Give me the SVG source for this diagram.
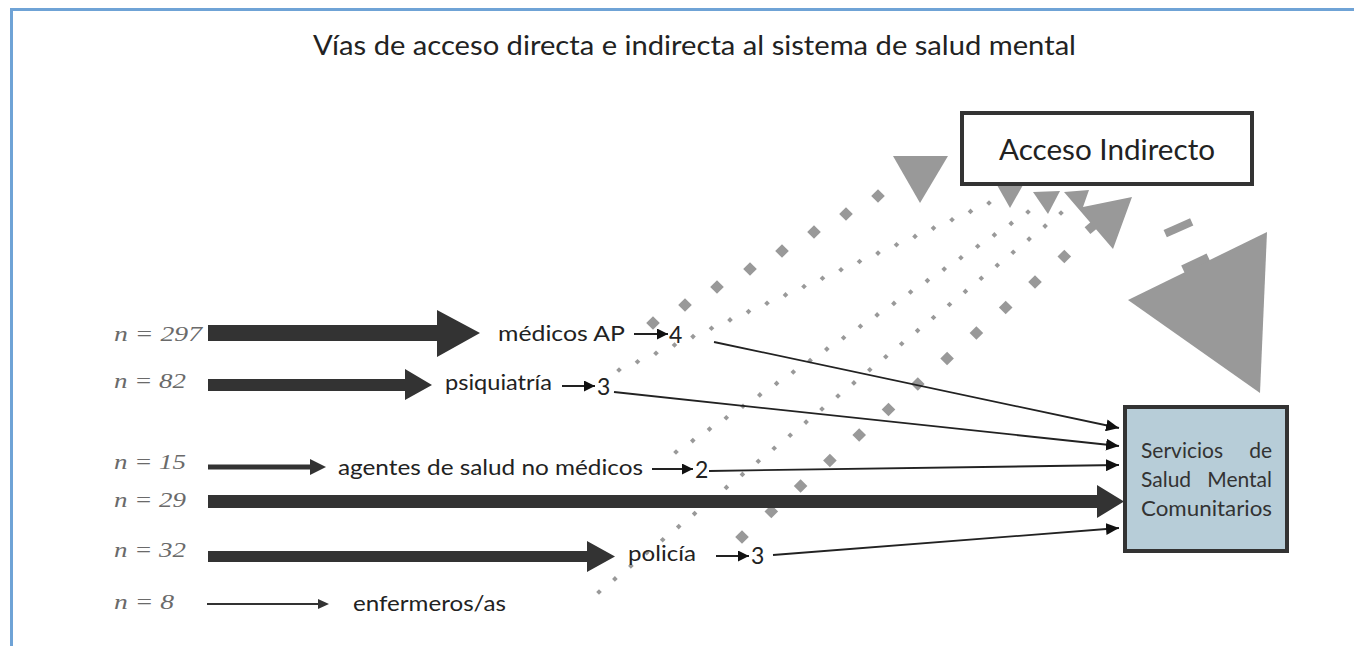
<svg xmlns="http://www.w3.org/2000/svg" width="1354" height="646" viewBox="0 0 1354 646">
<style>
.t{font-family:Lato,"Open Sans","Liberation Sans",sans-serif;fill:#222}
.d{font-family:Lato,"Open Sans","Liberation Sans",sans-serif;fill:#222;font-size:23px}
.n{font-family:"Liberation Serif","DejaVu Serif",serif;font-style:italic;fill:#6a6a6a;font-size:21px}
.s{font-family:Lato,"Open Sans","Liberation Sans",sans-serif;fill:#333;font-size:21px}
.big{fill:#333}
.thin{stroke:#222;stroke-width:1.8;fill:none}
.g{fill:#999}
</style>
<defs>
<marker id="ah" markerUnits="userSpaceOnUse" markerWidth="14" markerHeight="12" refX="13" refY="6" orient="auto">
<path d="M0,0 L13,6 L0,12 Z" fill="#111"/>
</marker>
<marker id="sa" markerUnits="userSpaceOnUse" markerWidth="12" markerHeight="12" refX="11" refY="5.5" orient="auto">
<path d="M0,0 L11,5.5 L0,11 Z" fill="#111"/>
</marker>
<path id="dB" d="M0,-6.8 L6.8,0 L0,6.8 L-6.8,0 Z" fill="#999"/>
<path id="dS" d="M0,-2.8 L2.8,0 L0,2.8 L-2.8,0 Z" fill="#999"/>
</defs>
<rect width="1354" height="646" fill="#fff"/>
<g id="frame" fill="#6fa3d6">
<rect x="10" y="8" width="1344" height="3"/>
<rect x="10" y="8" width="3" height="638"/>
</g>
<g id="title"><text class="t" x="313" y="55" font-size="26" textLength="763" lengthAdjust="spacingAndGlyphs">Vías de acceso directa e indirecta al sistema de salud mental</text></g>

<g id="indirect-paths">
<g id="lineA">
<use href="#dB" x="653" y="323"/><use href="#dB" x="685" y="305"/><use href="#dB" x="717" y="287"/><use href="#dB" x="750" y="269"/><use href="#dB" x="782" y="251"/><use href="#dB" x="814" y="232"/><use href="#dB" x="846" y="214"/><use href="#dB" x="878" y="196"/>
<polygon class="g" points="893,156 948,156 920,203"/>
</g>
<g id="lineB">
<use href="#dS" x="619" y="370"/><use href="#dS" x="637.5" y="361.7"/><use href="#dS" x="656" y="353.3"/><use href="#dS" x="674.5" y="345"/><use href="#dS" x="693" y="336.6"/><use href="#dS" x="711.5" y="328.3"/><use href="#dS" x="730" y="319.9"/><use href="#dS" x="748.5" y="311.6"/><use href="#dS" x="767" y="303.2"/><use href="#dS" x="785.5" y="294.9"/><use href="#dS" x="804" y="286.5"/><use href="#dS" x="822.5" y="278.2"/><use href="#dS" x="841" y="269.8"/><use href="#dS" x="859.5" y="261.5"/><use href="#dS" x="878" y="253.1"/><use href="#dS" x="896.5" y="244.8"/><use href="#dS" x="915" y="236.4"/><use href="#dS" x="933.5" y="228.1"/><use href="#dS" x="952" y="219.7"/><use href="#dS" x="970.5" y="211.4"/><use href="#dS" x="989" y="203"/>
<polygon class="g" points="997,185 1023,185 1010,208"/>
</g>
<g id="lineC">
<use href="#dS" x="676" y="452"/><use href="#dS" x="692.8" y="440.6"/><use href="#dS" x="709.5" y="429.1"/><use href="#dS" x="726.3" y="417.7"/><use href="#dS" x="743" y="406.3"/><use href="#dS" x="759.8" y="394.9"/><use href="#dS" x="776.6" y="383.4"/><use href="#dS" x="793.3" y="372"/><use href="#dS" x="810.1" y="360.6"/><use href="#dS" x="826.8" y="349.1"/><use href="#dS" x="843.6" y="337.7"/><use href="#dS" x="860.4" y="326.3"/><use href="#dS" x="877.1" y="314.9"/><use href="#dS" x="893.9" y="303.4"/><use href="#dS" x="910.6" y="292"/><use href="#dS" x="927.4" y="280.6"/><use href="#dS" x="944.2" y="269.1"/><use href="#dS" x="960.9" y="257.7"/><use href="#dS" x="977.7" y="246.3"/><use href="#dS" x="994.4" y="234.9"/><use href="#dS" x="1011.2" y="223.4"/><use href="#dS" x="1028" y="212"/>
<polygon class="g" points="1033,192 1060,191 1048,214"/>
</g>
<g id="lineD">
<use href="#dS" x="599" y="592"/><use href="#dS" x="614.9" y="578.9"/><use href="#dS" x="630.9" y="565.9"/><use href="#dS" x="646.8" y="552.8"/><use href="#dS" x="662.7" y="539.7"/><use href="#dS" x="678.7" y="526.6"/><use href="#dS" x="694.6" y="513.6"/><use href="#dS" x="710.5" y="500.5"/><use href="#dS" x="726.4" y="487.4"/><use href="#dS" x="742.4" y="474.4"/><use href="#dS" x="758.3" y="461.3"/><use href="#dS" x="774.2" y="448.2"/><use href="#dS" x="790.2" y="435.2"/><use href="#dS" x="806.1" y="422.1"/><use href="#dS" x="822" y="409"/><use href="#dS" x="838" y="396"/><use href="#dS" x="853.9" y="382.9"/><use href="#dS" x="869.8" y="369.8"/><use href="#dS" x="885.8" y="356.8"/><use href="#dS" x="901.7" y="343.7"/><use href="#dS" x="917.6" y="330.6"/><use href="#dS" x="933.5" y="317.5"/><use href="#dS" x="949.5" y="304.5"/><use href="#dS" x="965.4" y="291.4"/><use href="#dS" x="981.3" y="278.3"/><use href="#dS" x="997.3" y="265.3"/><use href="#dS" x="1013.2" y="252.2"/><use href="#dS" x="1029.1" y="239.1"/><use href="#dS" x="1045.1" y="226.1"/><use href="#dS" x="1061" y="213"/>
</g>
<g id="lineE">
<use href="#dB" x="742" y="537"/><use href="#dB" x="771.3" y="511.5"/><use href="#dB" x="800.6" y="486"/><use href="#dB" x="829.9" y="460.5"/><use href="#dB" x="859.2" y="435"/><use href="#dB" x="888.5" y="409.5"/><use href="#dB" x="917.8" y="384"/><use href="#dB" x="947.1" y="358.5"/><use href="#dB" x="976.4" y="333"/><use href="#dB" x="1005.7" y="307.5"/><use href="#dB" x="1035" y="282"/><use href="#dB" x="1064.3" y="256.5"/>
<rect class="g" x="1086" y="223" width="11" height="9" transform="rotate(-40 1091 227)"/>
<polygon class="g" points="1064,192 1089,190 1083,207 1132,197 1113,249"/>
</g>
<g id="lineF">
<rect class="g" x="1164" y="224" width="29" height="8" transform="rotate(-24 1178 228)"/>
<rect class="g" x="1182" y="259" width="28" height="10" transform="rotate(-25 1196 264)"/>
<polygon class="g" points="1128,300 1267,232 1260,393"/>
</g>
</g>

<g id="connectors">
<path class="big" d="M208,325 H437 V310 L480,333 L437,357 V341 H208 Z"/>
<path class="big" d="M208,379 H405 V369 L432,385 L405,400 V391 H208 Z"/>
<path class="big" d="M208,464.5 H310 V459 L326,467 L310,475 V469.5 H208 Z"/>
<path class="big" d="M208,495 H1097 V485 L1124,501.5 L1097,518 V508 H208 Z"/>
<path class="big" d="M208,551 H587 V541 L615,556.5 L587,572 V562 H208 Z"/>
<path class="big" d="M207,603 H318 V599 L329,604 L318,609 V605 H207 Z"/>
<line class="thin" x1="634" y1="334" x2="668" y2="334" marker-end="url(#sa)"/>
<line class="thin" x1="562" y1="386" x2="595" y2="386" marker-end="url(#sa)"/>
<line class="thin" x1="652" y1="469" x2="693" y2="469" marker-end="url(#sa)"/>
<line class="thin" x1="716" y1="556" x2="749" y2="556" marker-end="url(#sa)"/>
<line class="thin" x1="714" y1="342" x2="1119" y2="428" marker-end="url(#ah)"/>
<line class="thin" x1="614" y1="392" x2="1119" y2="446" marker-end="url(#ah)"/>
<line class="thin" x1="709" y1="471" x2="1119" y2="465" marker-end="url(#ah)"/>
<line class="thin" x1="773" y1="555" x2="1119" y2="528" marker-end="url(#ah)"/>
</g>

<g id="n297"><text class="n" x="114" y="341" textLength="88" lengthAdjust="spacingAndGlyphs">n = 297</text></g>
<g id="n82"><text class="n" x="114" y="388" textLength="72" lengthAdjust="spacingAndGlyphs">n = 82</text></g>
<g id="n15"><text class="n" x="114" y="469" textLength="72" lengthAdjust="spacingAndGlyphs">n = 15</text></g>
<g id="n29"><text class="n" x="114" y="507" textLength="72" lengthAdjust="spacingAndGlyphs">n = 29</text></g>
<g id="n32"><text class="n" x="114" y="557" textLength="72" lengthAdjust="spacingAndGlyphs">n = 32</text></g>
<g id="n8"><text class="n" x="114" y="609" textLength="60" lengthAdjust="spacingAndGlyphs">n = 8</text></g>

<g id="medicos"><text class="t" x="498" y="341" font-size="21" textLength="127" lengthAdjust="spacingAndGlyphs">médicos AP</text><text class="d" x="669" y="343">4</text></g>
<g id="psiquiatria"><text class="t" x="445" y="390" font-size="21" textLength="107" lengthAdjust="spacingAndGlyphs">psiquiatría</text><text class="d" x="597" y="395">3</text></g>
<g id="agentes"><text class="t" x="338" y="475" font-size="21" textLength="305" lengthAdjust="spacingAndGlyphs">agentes de salud no médicos</text><text class="d" x="695" y="478">2</text></g>
<g id="policia"><text class="t" x="628" y="561" font-size="21" textLength="68" lengthAdjust="spacingAndGlyphs">policía</text><text class="d" x="751" y="564">3</text></g>
<g id="enfermeros"><text class="t" x="353" y="611" font-size="21" textLength="153" lengthAdjust="spacingAndGlyphs">enfermeros/as</text></g>

<g id="acceso-indirecto">
<rect x="962" y="113" width="290" height="71" fill="#fff" stroke="#333" stroke-width="4"/>
<text class="t" x="999" y="160" font-size="28" textLength="216" lengthAdjust="spacingAndGlyphs">Acceso Indirecto</text>
</g>
<g id="servicios">
<rect x="1125" y="407" width="162" height="144" fill="#b7cdd8" stroke="#333" stroke-width="4"/>
<text class="s" x="1141" y="458">Servicios</text>
<text class="s" x="1272" y="458" text-anchor="end">de</text>
<text class="s" x="1141" y="487">Salud</text>
<text class="s" x="1272" y="487" text-anchor="end">Mental</text>
<text class="s" x="1141" y="516" textLength="131" lengthAdjust="spacingAndGlyphs">Comunitarios</text>
</g>
</svg>
